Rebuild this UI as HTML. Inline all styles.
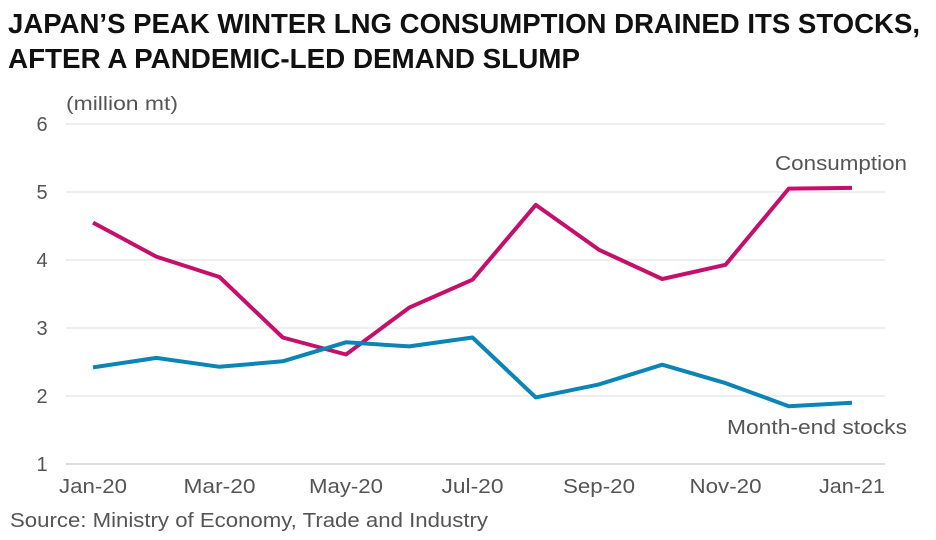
<!DOCTYPE html>
<html><head><meta charset="utf-8"><style>
html,body{margin:0;padding:0;background:#fff;}
svg{display:block;font-family:"Liberation Sans",sans-serif;}
</style></head><body>
<svg width="936" height="540" viewBox="0 0 936 540">
<rect width="936" height="540" fill="#fff"/>
<g font-weight="bold" font-size="28" fill="#111">
<text x="8" y="33" textLength="912" lengthAdjust="spacingAndGlyphs">JAPAN’S PEAK WINTER LNG CONSUMPTION DRAINED ITS STOCKS,</text>
<text x="8" y="68" textLength="572" lengthAdjust="spacingAndGlyphs">AFTER A PANDEMIC-LED DEMAND SLUMP</text>
</g>
<text x="66" y="110" font-size="19" fill="#555" textLength="112" lengthAdjust="spacingAndGlyphs">(million mt)</text>
<g stroke="#ddd" stroke-width="1">
<line x1="66" x2="885" y1="124" y2="124"/>
<line x1="66" x2="885" y1="192" y2="192"/>
<line x1="66" x2="885" y1="260" y2="260"/>
<line x1="66" x2="885" y1="328" y2="328"/>
<line x1="66" x2="885" y1="396" y2="396"/>
</g>
<line x1="66" x2="885" y1="464" y2="464" stroke="#bbb" stroke-width="1"/>
<g font-size="20" fill="#555" text-anchor="middle">
<text x="42" y="131">6</text><text x="42" y="199">5</text><text x="42" y="267">4</text>
<text x="42" y="335">3</text><text x="42" y="403">2</text><text x="42" y="471">1</text>
<text x="93" y="493" textLength="68" lengthAdjust="spacingAndGlyphs">Jan-20</text><text x="219.5" y="493" textLength="72" lengthAdjust="spacingAndGlyphs">Mar-20</text><text x="346" y="493" textLength="74" lengthAdjust="spacingAndGlyphs">May-20</text>
<text x="472.5" y="493" textLength="62" lengthAdjust="spacingAndGlyphs">Jul-20</text><text x="599" y="493" textLength="72" lengthAdjust="spacingAndGlyphs">Sep-20</text><text x="725.5" y="493" textLength="72" lengthAdjust="spacingAndGlyphs">Nov-20</text>
<text x="852" y="493" textLength="66" lengthAdjust="spacingAndGlyphs">Jan-21</text>
</g>
<polyline fill="none" stroke="#c4106a" stroke-width="4" stroke-linejoin="round" points="93,222.6 156.25,256.6 219.5,277 282.75,337.5 346,354.5 409.25,307.6 472.5,279.7 535.75,204.9 599,249.8 662.25,279 725.5,264.8 788.75,188.6 852,187.9"/>
<polyline fill="none" stroke="#0a85b5" stroke-width="4" stroke-linejoin="round" points="93,367.4 156.25,357.9 219.5,366.8 282.75,361.3 346,342.3 409.25,346.4 472.5,337.5 535.75,397.4 599,384.4 662.25,364.7 725.5,383.1 788.75,406.2 852,402.8"/>
<text x="775" y="170" font-size="20" fill="#555" textLength="132" lengthAdjust="spacingAndGlyphs">Consumption</text>
<text x="727" y="434" font-size="20" fill="#555" textLength="180" lengthAdjust="spacingAndGlyphs">Month-end stocks</text>
<text x="10" y="527" font-size="20" fill="#555" textLength="478" lengthAdjust="spacingAndGlyphs">Source: Ministry of Economy, Trade and Industry</text>
</svg>
</body></html>
